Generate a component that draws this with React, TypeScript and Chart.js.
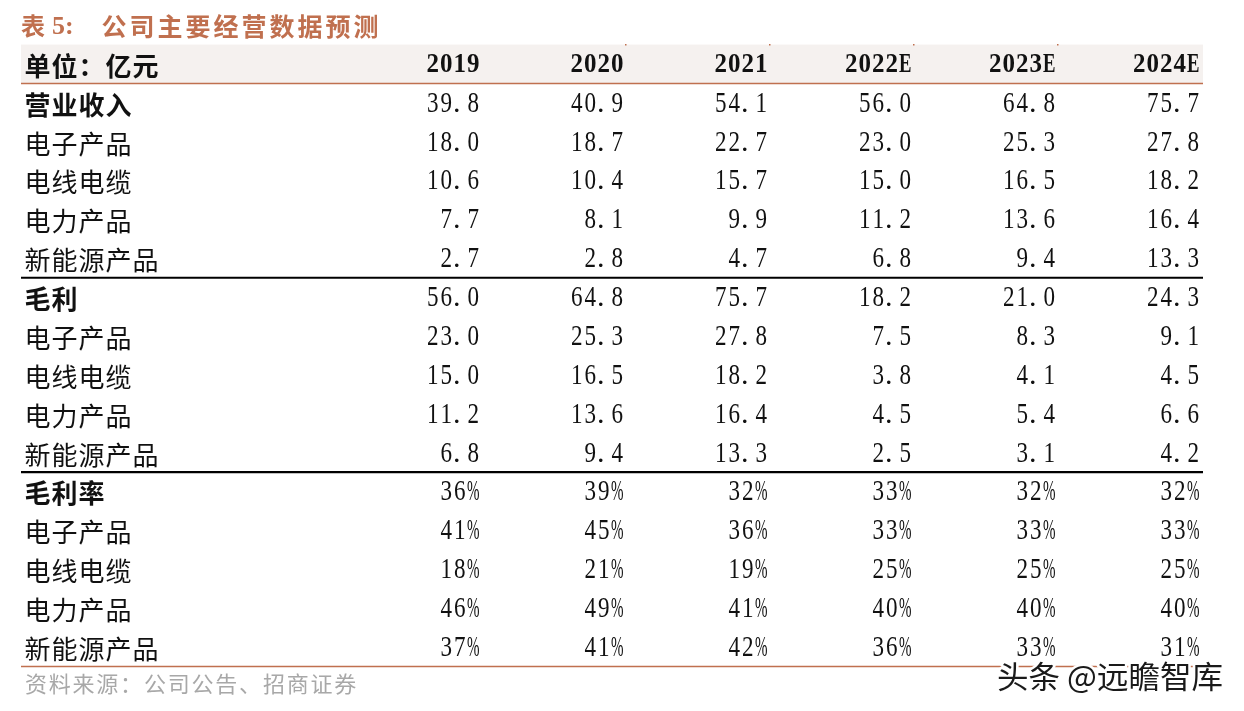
import { useEffect, useRef } from 'react';
import { Chart, registerables } from 'chart.js';

Chart.register(...registerables);

const titleText = '表 5:';
const titleRest = '公司主要经营数据预测';
const unitLabel = '单位：亿元';
const sourceText = '资料来源：公司公告、招商证券';
const watermarkText = '头条 @远瞻智库';

const years = ['2019', '2020', '2021', '2022E', '2023E', '2024E'];

const rowLabels = [
  '营业收入', '电子产品', '电线电缆', '电力产品', '新能源产品',
  '毛利', '电子产品', '电线电缆', '电力产品', '新能源产品',
  '毛利率', '电子产品', '电线电缆', '电力产品', '新能源产品',
];
const boldRows = [0, 5, 10];

const revenueTotal = [39.8, 40.9, 54.1, 56.0, 64.8, 75.7];
const revenueElectronics = [18.0, 18.7, 22.7, 23.0, 25.3, 27.8];
const revenueCable = [10.6, 10.4, 15.7, 15.0, 16.5, 18.2];
const revenuePower = [7.7, 8.1, 9.9, 11.2, 13.6, 16.4];
const revenueNewEnergy = [2.7, 2.8, 4.7, 6.8, 9.4, 13.3];

const grossTotal = [56.0, 64.8, 75.7, 18.2, 21.0, 24.3];
const grossElectronics = [23.0, 25.3, 27.8, 7.5, 8.3, 9.1];
const grossCable = [15.0, 16.5, 18.2, 3.8, 4.1, 4.5];
const grossPower = [11.2, 13.6, 16.4, 4.5, 5.4, 6.6];
const grossNewEnergy = [6.8, 9.4, 13.3, 2.5, 3.1, 4.2];

const marginTotal = [36, 39, 32, 33, 32, 32];
const marginElectronics = [41, 45, 36, 33, 33, 33];
const marginCable = [18, 21, 19, 25, 25, 25];
const marginPower = [46, 49, 41, 40, 40, 40];
const marginNewEnergy = [37, 41, 42, 36, 33, 31];

const valueRows = [
  revenueTotal, revenueElectronics, revenueCable, revenuePower, revenueNewEnergy,
  grossTotal, grossElectronics, grossCable, grossPower, grossNewEnergy,
];
const percentRows = [marginTotal, marginElectronics, marginCable, marginPower, marginNewEnergy];

const ACCENT = '#c0704f';
const TEXT = '#111111';
const ADV = 13.5;

function drawMono(ctx: CanvasRenderingContext2D, text: string, right: number, cy: number, font: string, maxScale: number) {
  ctx.save();
  ctx.font = font;
  ctx.textAlign = 'center';
  ctx.textBaseline = 'middle';
  ctx.fillStyle = TEXT;
  const n = text.length;
  for (let i = 0; i < n; i++) {
    const ch = text[i];
    let cx = right - (n - i - 0.5) * ADV;
    const w = ctx.measureText(ch).width || 1;
    let s = Math.min(maxScale, (ADV - 1) / w);
    if (ch === '.') { s = 1; cx -= 3; }
    ctx.save();
    ctx.translate(cx, cy);
    ctx.scale(s, 1);
    ctx.fillText(ch, 0, 0);
    ctx.restore();
  }
  ctx.restore();
}

function drawSpaced(ctx: CanvasRenderingContext2D, text: string, left: number, cy: number, font: string, adv: number, color: string) {
  ctx.save();
  ctx.font = font;
  ctx.textAlign = 'center';
  ctx.textBaseline = 'middle';
  ctx.fillStyle = color;
  Array.from(text).forEach((ch, i) => {
    ctx.fillText(ch, left + (i + 0.5) * adv, cy);
  });
  ctx.restore();
}

const tablePlugin = {
  id: 'tableText',
  beforeDatasetsDraw(chart: any) {
    const { ctx, scales } = chart;
    const y = scales.y;
    const top = y.getPixelForValue(-1.5);
    const bot = y.getPixelForValue(-0.5);
    ctx.save();
    ctx.fillStyle = '#f5f1ef';
    ctx.fillRect(21, top, 1203 - 21, bot - top);
    ctx.restore();
  },
  afterDatasetsDraw(chart: any) {
    const { ctx, scales } = chart;
    const x = scales.x;
    const y = scales.y;
    const L = 21, R = 1203;

    const hline = (v: number, color: string, w: number) => {
      const py = y.getPixelForValue(v);
      ctx.save();
      ctx.strokeStyle = color;
      ctx.lineWidth = w;
      ctx.beginPath();
      ctx.moveTo(L, py);
      ctx.lineTo(R, py);
      ctx.stroke();
      ctx.restore();
    };
    hline(-0.5, ACCENT, 1.5);
    hline(4.5, '#000', 2.2);
    hline(9.5, '#000', 2.2);
    hline(14.5, ACCENT, 1.5);

    // tiny marks at header top
    ctx.save();
    ctx.fillStyle = ACCENT;
    for (let i = 2; i <= 5; i++) {
      ctx.fillRect(Math.round(x.getPixelForValue(i)) + 1, Math.round(y.getPixelForValue(-1.5)) - 1, 1.5, 1.5);
    }
    ctx.restore();

    // title
    drawSpaced(ctx, titleText.charAt(0), 22, 26, '700 24px "Noto Sans CJK SC"', 22, ACCENT);
    ctx.save();
    ctx.fillStyle = ACCENT;
    ctx.textBaseline = 'middle';
    ctx.textAlign = 'left';
    ctx.font = '700 26px "Liberation Serif"';
    ctx.fillText(titleText.slice(1).trim(), 52, 27);
    ctx.restore();
    drawSpaced(ctx, titleRest, 100, 26, '700 25px "Noto Sans CJK SC"', 28, ACCENT);

    // header row
    const hy = y.getPixelForValue(-1);
    drawSpaced(ctx, unitLabel, 24, hy + 2, '700 26px "Noto Sans CJK SC"', 27, TEXT);
    years.forEach((yr, i) => {
      drawMono(ctx, yr, x.getPixelForValue(i + 1), hy + 1, '700 28px "Liberation Serif"', 0.9);
    });

    // row labels
    rowLabels.forEach((lab, r) => {
      const py = y.getPixelForValue(r);
      const bold = boldRows.includes(r);
      drawSpaced(ctx, lab, 24, py + 2, (bold ? '700 ' : '400 ') + '26px "Noto Sans CJK SC"', 27, TEXT);
    });

    // cells
    chart.data.datasets.forEach((ds: any, di: number) => {
      const meta = chart.getDatasetMeta(di);
      meta.data.forEach((el: any, i: number) => {
        const txt = ds.texts[i];
        drawMono(ctx, txt, el.x, el.y + 1, '400 30px "Liberation Serif"', 0.77);
      });
    });

    // source
    drawSpaced(ctx, sourceText, 24, 684, '400 22px "Noto Sans CJK SC"', 23.8, '#a8a8a8');

    // watermark
    ctx.save();
    ctx.textBaseline = 'middle';
    ctx.textAlign = 'left';
    ctx.font = '400 31px "Noto Sans CJK SC"';
    ctx.lineJoin = 'round';
    ctx.strokeStyle = '#ffffff';
    ctx.lineWidth = 5;
    const w = ctx.measureText(watermarkText).width;
    const sx = Math.min(1.15, 226 / w);
    ctx.translate(997, 676);
    ctx.scale(sx, 1);
    ctx.strokeText(watermarkText, 0, 0);
    ctx.fillStyle = '#1a1a1a';
    ctx.fillText(watermarkText, 0, 0);
    ctx.restore();
  },
};

export default function App() {
  const ref = useRef<HTMLCanvasElement | null>(null);

  useEffect(() => {
    document.body.style.margin = '0';
    document.body.style.overflow = 'hidden';
    const canvas = ref.current;
    if (!canvas) return;

    const datasets: any[] = [];
    valueRows.forEach((vals, r) => {
      datasets.push({
        label: rowLabels[r],
        data: vals.map((v, i) => ({ x: i + 1, y: r })),
        texts: vals.map((v) => v.toFixed(1)),
        pointRadius: 0,
        pointHoverRadius: 0,
      });
    });
    percentRows.forEach((vals, k) => {
      const r = valueRows.length + k;
      datasets.push({
        label: rowLabels[r],
        data: vals.map((v, i) => ({ x: i + 1, y: r })),
        texts: vals.map((v) => `${v}%`),
        pointRadius: 0,
        pointHoverRadius: 0,
      });
    });

    const chart = new Chart(canvas, {
      type: 'scatter',
      data: { datasets },
      options: {
        animation: false,
        responsive: false,
        devicePixelRatio: 1,
        layout: { padding: { left: 336, right: 44, top: 64, bottom: 64 } },
        plugins: { legend: { display: false }, tooltip: { enabled: false } },
        events: [],
        scales: {
          x: { type: 'linear', min: 0, max: 6, display: false },
          y: { type: 'linear', min: -1, max: 14, reverse: true, display: false },
        },
      } as any,
      plugins: [tablePlugin as any],
    });
    return () => chart.destroy();
  }, []);

  return (
    <div style={{ width: 1244, height: 711, background: '#fff' }}>
      <canvas ref={ref} width={1244} height={711} style={{ display: 'block' }} />
    </div>
  );
}
